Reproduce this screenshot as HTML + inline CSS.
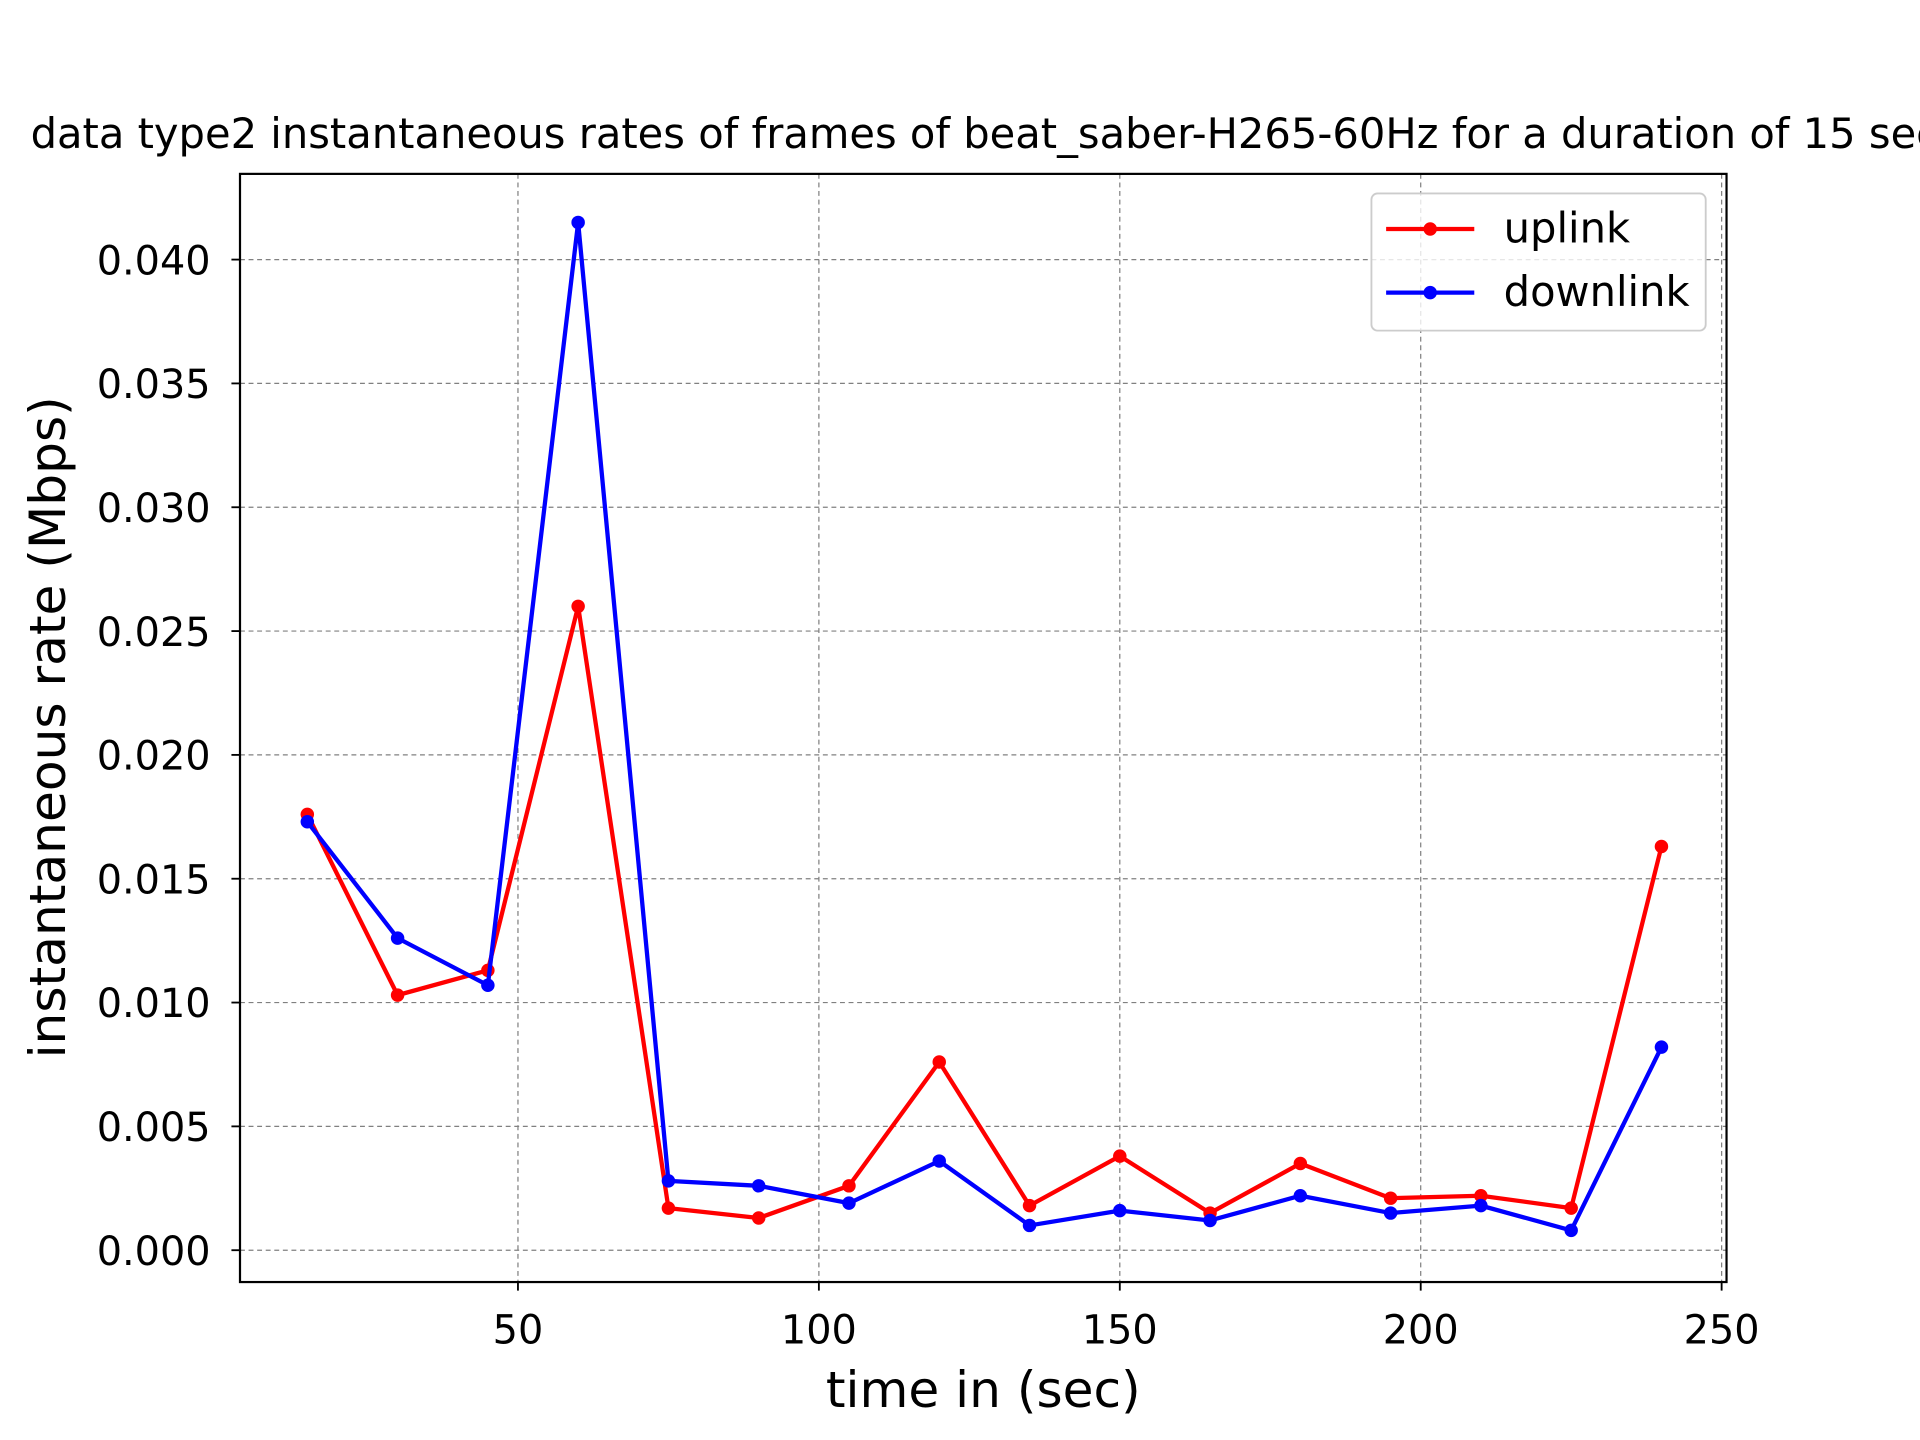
<!DOCTYPE html>
<html><head><meta charset="utf-8"><style>
html,body{margin:0;padding:0;background:#fff;overflow:hidden}
svg{display:block}
text{font-family:"DejaVu Sans","Liberation Sans",sans-serif;fill:#000}
</style></head><body>
<svg id="chart" width="1920" height="1440" viewBox="0 0 1568 1176" xmlns="http://www.w3.org/2000/svg">
<text x="25" y="121" font-size="34">data type2 instantaneous rates of frames of beat_saber-H265-60Hz for a duration of 15 sec</text>
<g id="grid"></g>
<g id="ticks"></g>
<g id="series"></g>
<rect x="196" y="142" width="1214" height="905" fill="none" stroke="#000" stroke-width="1.8"/>
<text x="803" y="1149" font-size="41" text-anchor="middle">time in (sec)</text>
<text transform="translate(53,594) rotate(-90)" font-size="41" text-anchor="middle">instantaneous rate (Mbps)</text>
<g>
<rect x="1120" y="158" width="273" height="112" rx="5" fill="#fff" fill-opacity="0.8" stroke="#ccc" stroke-width="1.5"/>
<line x1="1132" y1="187" x2="1204" y2="187" stroke="#ff0000" stroke-width="3.5"/><circle cx="1168" cy="187" r="5.5" fill="#ff0000"/>
<text x="1228" y="198" font-size="34">uplink</text>
<line x1="1132" y1="239" x2="1204" y2="239" stroke="#0000ff" stroke-width="3.5"/><circle cx="1168" cy="239" r="5.5" fill="#0000ff"/>
<text x="1228" y="250" font-size="34">downlink</text>
</g>
</svg>
<script>
const times=[15,30,45,60,75,90,105,120,135,150,165,180,195,210,225,240];
const uplink=[0.0176,0.0103,0.0113,0.0260,0.0017,0.0013,0.0026,0.0076,0.0018,0.0038,0.0015,0.0035,0.0021,0.0022,0.0017,0.0163];
const downlink=[0.0173,0.0126,0.0107,0.0415,0.0028,0.0026,0.0019,0.0036,0.0010,0.0016,0.0012,0.0022,0.0015,0.0018,0.0008,0.0082];
const xTicks=[50,100,150,200,250];
const yTicks=[0,0.005,0.010,0.015,0.020,0.025,0.030,0.035,0.040];
const NS="http://www.w3.org/2000/svg";
function sx(v){return 423+(v-50)*(983/200);}
function sy(v){return 1021-v*(809/0.040);}
function mk(tag,attrs,parent){const e=document.createElementNS(NS,tag);for(const k in attrs)e.setAttribute(k,attrs[k]);parent.appendChild(e);return e;}
const grid=document.getElementById('grid'),ticks=document.getElementById('ticks'),series=document.getElementById('series');
xTicks.forEach(t=>{
 const x=sx(t);
 const g=mk('line',{x1:x,x2:x,y1:142,y2:1047,stroke:'#808080','stroke-width':1,'stroke-dasharray':'4,3'},grid);
 
 
 mk('line',{x1:x,x2:x,y1:1047,y2:1054,stroke:'#000','stroke-width':1.5},ticks);
 const tx=mk('text',{x:x,y:1097,'font-size':32.5,'text-anchor':'middle'},ticks);tx.textContent=t;
 
 
});
yTicks.forEach(t=>{
 const y=sy(t);
 const g=mk('line',{x1:196,x2:1410,y1:y,y2:y,stroke:'#808080','stroke-width':1,'stroke-dasharray':'4,3'},grid);
 
 
 mk('line',{x1:189,x2:196,y1:y,y2:y,stroke:'#000','stroke-width':1.5},ticks);
 const tx=mk('text',{x:172,y:y+12,'font-size':32.5,'text-anchor':'end'},ticks);tx.textContent=t.toFixed(3);
 
 
});
function draw(vals,color,name){
 const pts=times.map((t,i)=>sx(t)+','+sy(vals[i])).join(' ');
 const pl=mk('polyline',{points:pts,fill:'none',stroke:color,'stroke-width':3.5,'stroke-linejoin':'round'},series);
 
 
 times.forEach((t,i)=>{
  const c=mk('circle',{cx:sx(t),cy:sy(vals[i]),r:5.5,fill:color},series);
  
  
 });
}
draw(uplink,'#ff0000','uplink');
draw(downlink,'#0000ff','downlink');
</script>
</body></html>
